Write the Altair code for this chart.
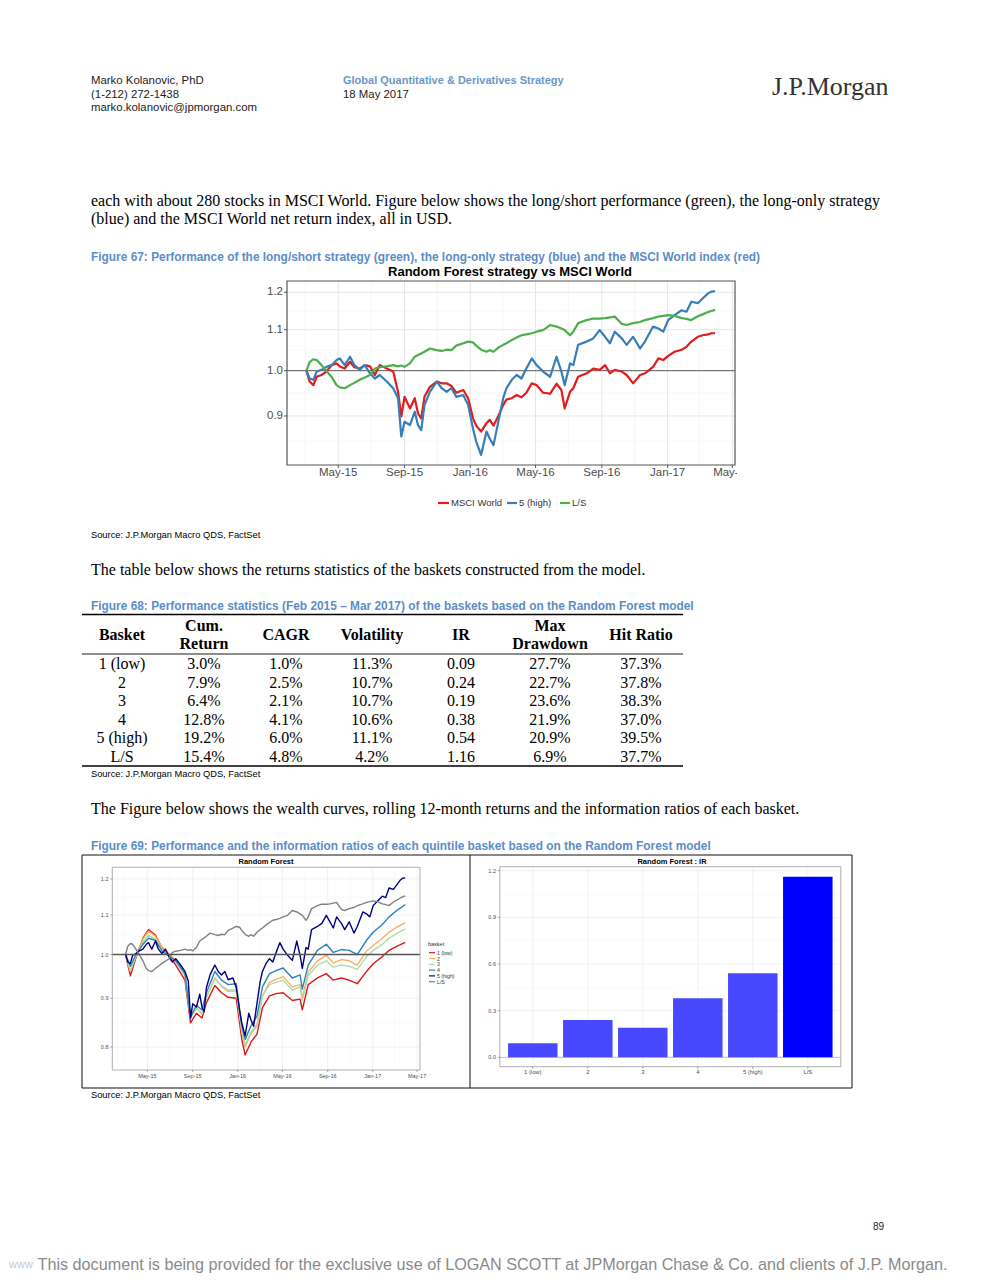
import altair as alt
import pandas as pd

# ------------------------------------------------------------------
# DATA
# ------------------------------------------------------------------
dates67 = [
    "2015-03-03", "2015-03-09", "2015-03-16", "2015-03-22", "2015-03-31", "2015-04-09", "2015-04-19", "2015-04-28",
    "2015-05-04", "2015-05-13", "2015-05-23", "2015-05-31", "2015-06-10", "2015-06-19", "2015-06-29", "2015-07-08",
    "2015-07-17", "2015-07-30", "2015-08-11", "2015-08-20", "2015-08-26", "2015-09-01", "2015-09-11", "2015-09-20",
    "2015-09-26", "2015-10-02", "2015-10-08", "2015-10-18", "2015-10-31", "2015-11-09", "2015-11-18", "2015-11-27",
    "2015-12-06", "2015-12-19", "2015-12-28", "2016-01-06", "2016-01-12", "2016-01-21", "2016-01-31",
    "2016-02-06", "2016-02-13", "2016-02-22", "2016-03-02", "2016-03-08", "2016-03-18", "2016-03-27", "2016-04-05",
    "2016-04-14", "2016-04-24", "2016-05-03", "2016-05-15", "2016-05-28", "2016-06-09", "2016-06-18", "2016-06-24",
    "2016-07-04", "2016-07-10", "2016-07-19", "2016-08-04", "2016-08-16", "2016-08-28", "2016-09-07", "2016-09-16",
    "2016-09-25", "2016-10-08", "2016-10-17", "2016-10-29", "2016-11-11", "2016-11-20", "2016-12-05", "2016-12-15",
    "2016-12-24", "2017-01-02", "2017-01-14", "2017-01-27", "2017-02-05", "2017-02-14", "2017-02-26", "2017-03-07",
    "2017-03-17", "2017-03-23", "2017-03-30"]

msci_world = [
    1.000, 0.975, 0.967, 0.986, 0.990, 0.998, 1.013, 1.017,
    1.010, 1.005, 1.021, 1.008, 1.005, 1.013, 1.010, 0.990,
    1.013, 1.005, 0.998, 0.952, 0.899, 0.941, 0.916, 0.938,
    0.905, 0.895, 0.941, 0.963, 0.975, 0.971, 0.971, 0.965,
    0.950, 0.956, 0.938, 0.895, 0.880, 0.868, 0.885,
    0.892, 0.880, 0.900, 0.923, 0.935, 0.938, 0.945, 0.940,
    0.950, 0.971, 0.967, 0.950, 0.948, 0.970, 0.956, 0.916,
    0.952, 0.960, 0.986, 0.994, 1.005, 1.002, 1.013, 0.994,
    1.002, 0.998, 0.990, 0.971, 0.990, 0.994, 1.009, 1.029,
    1.025, 1.035, 1.045, 1.050, 1.057, 1.070, 1.082, 1.086,
    1.088, 1.091, 1.091]

basket5_high = [
    1.000, 0.982, 0.979, 0.998, 1.002, 1.009, 1.013, 1.025,
    1.029, 1.013, 1.033, 1.013, 1.002, 1.013, 0.994, 0.982,
    0.990, 0.975, 0.960, 0.938, 0.858, 0.888, 0.881, 0.909,
    0.881, 0.871, 0.923, 0.952, 0.975, 0.960, 0.952, 0.960,
    0.941, 0.945, 0.923, 0.874, 0.848, 0.822, 0.868,
    0.854, 0.841, 0.888, 0.938, 0.960, 0.979, 0.990, 0.982,
    1.005, 1.029, 1.013, 0.998, 0.986, 1.033, 0.998, 0.967,
    1.017, 1.013, 1.062, 1.070, 1.078, 1.099, 1.082, 1.066,
    1.095, 1.078, 1.062, 1.082, 1.053, 1.070, 1.108, 1.103,
    1.095, 1.125, 1.138, 1.151, 1.147, 1.174, 1.170, 1.183,
    1.197, 1.202, 1.203]

long_short = [
    1.000, 1.020, 1.027, 1.025, 1.013, 1.000, 0.985, 0.967,
    0.962, 0.960, 0.967, 0.972, 0.979, 0.984, 0.990, 1.005,
    1.008, 1.010, 1.013, 1.010, 1.012, 1.009, 1.017, 1.033,
    1.037, 1.041, 1.045, 1.053, 1.049, 1.047, 1.050, 1.049,
    1.060, 1.066, 1.070, 1.068, 1.060, 1.050, 1.045,
    1.049, 1.045, 1.055, 1.062, 1.066, 1.074, 1.080, 1.086,
    1.088, 1.091, 1.095, 1.099, 1.112, 1.108, 1.103, 1.099,
    1.086, 1.095, 1.117, 1.125, 1.129, 1.129, 1.130, 1.132,
    1.134, 1.115, 1.112, 1.117, 1.120, 1.125, 1.130, 1.134,
    1.136, 1.138, 1.136, 1.130, 1.128, 1.125, 1.135, 1.140,
    1.146, 1.149, 1.152]

dates69 = [
    "2015-03-03", "2015-03-16", "2015-03-31", "2015-04-19", "2015-05-04", "2015-05-23", "2015-06-10",
    "2015-06-29", "2015-07-17", "2015-08-11", "2015-08-26", "2015-09-11", "2015-09-26", "2015-10-08",
    "2015-10-31", "2015-11-18", "2015-12-06", "2015-12-28", "2016-01-12", "2016-01-21", "2016-02-06",
    "2016-02-22", "2016-03-08", "2016-03-27", "2016-04-14", "2016-05-03", "2016-05-28", "2016-06-18",
    "2016-06-24", "2016-07-10", "2016-08-04", "2016-08-28", "2016-09-16", "2016-10-08", "2016-10-29",
    "2016-11-20", "2016-12-15", "2017-01-02", "2017-01-27", "2017-02-14", "2017-03-07", "2017-03-30"]

basket1_low = [1.000, 0.950, 0.992, 1.040, 1.062, 1.048, 1.015, 0.998, 0.975, 0.940, 0.848, 0.868, 0.858, 0.890,
               0.928, 0.912, 0.902, 0.900, 0.815, 0.785, 0.810, 0.825, 0.880, 0.905, 0.910, 0.912, 0.895, 0.898,
               0.875, 0.930, 0.945, 0.955, 0.940, 0.945, 0.940, 0.932, 0.960, 0.978, 0.995, 1.010, 1.020, 1.030]
basket2 = [1.000, 0.960, 0.998, 1.038, 1.058, 1.045, 1.018, 1.002, 0.985, 0.952, 0.860, 0.880, 0.866, 0.902,
           0.945, 0.926, 0.915, 0.916, 0.830, 0.800, 0.826, 0.842, 0.905, 0.935, 0.942, 0.948, 0.925, 0.930,
           0.900, 0.958, 0.985, 0.998, 0.980, 0.988, 0.985, 0.975, 1.008, 1.022, 1.040, 1.055, 1.068, 1.079]
basket3 = [1.000, 0.962, 0.995, 1.030, 1.048, 1.038, 1.012, 0.998, 0.982, 0.950, 0.858, 0.878, 0.868, 0.900,
           0.945, 0.928, 0.918, 0.918, 0.832, 0.805, 0.830, 0.845, 0.905, 0.930, 0.935, 0.940, 0.918, 0.925,
           0.895, 0.950, 0.975, 0.985, 0.970, 0.975, 0.972, 0.965, 0.995, 1.010, 1.025, 1.040, 1.052, 1.064]
basket4 = [1.000, 0.972, 1.000, 1.025, 1.040, 1.035, 1.008, 0.996, 0.985, 0.955, 0.860, 0.885, 0.875, 0.912,
           0.960, 0.940, 0.930, 0.932, 0.842, 0.815, 0.842, 0.862, 0.925, 0.955, 0.962, 0.968, 0.945, 0.952,
           0.920, 0.975, 1.010, 1.025, 1.005, 1.012, 1.010, 1.000, 1.035, 1.055, 1.075, 1.095, 1.112, 1.128]

series67_names = ["MSCI World", "5 (high)", "L/S"]
series67_colors = ["#e41a1c", "#377eb8", "#4daf4a"]

series69_names = ["1 (low)", "2", "3", "4", "5 (high)", "L/S"]
series69_colors = ["#d7191c", "#fdae61", "#abdda4", "#2b83ba", "#00007f", "#808080"]

ir_categories = ["1 (low)", "2", "3", "4", "5 (high)", "L/S"]
ir_values = [0.09, 0.24, 0.19, 0.38, 0.54, 1.16]
ir_colors = ["#4848ff", "#4848ff", "#4848ff", "#4848ff", "#4848ff", "#0000ff"]

table_header = ["Basket", "Cum.\nReturn", "CAGR", "Volatility", "IR", "Max\nDrawdown", "Hit Ratio"]
table_basket = ["1 (low)", "2", "3", "4", "5 (high)", "L/S"]
table_cum = ["3.0%", "7.9%", "6.4%", "12.8%", "19.2%", "15.4%"]
table_cagr = ["1.0%", "2.5%", "2.1%", "4.1%", "6.0%", "4.8%"]
table_vol = ["11.3%", "10.7%", "10.7%", "10.6%", "11.1%", "4.2%"]
table_ir = ["0.09", "0.24", "0.19", "0.38", "0.54", "1.16"]
table_mdd = ["27.7%", "22.7%", "23.6%", "21.9%", "20.9%", "6.9%"]
table_hit = ["37.3%", "37.8%", "38.3%", "37.0%", "39.5%", "37.7%"]

time_major = ["2015-05-01", "2015-09-01", "2016-01-01", "2016-05-01", "2016-09-01", "2017-01-01", "2017-05-01"]
time_labels = ["May-15", "Sep-15", "Jan-16", "May-16", "Sep-16", "Jan-17", "May-17"]
time_minor = ["2015-03-01", "2015-07-01", "2015-11-01", "2016-03-01", "2016-07-01", "2016-11-01", "2017-03-01"]
y67_major = [0.9, 1.0, 1.1, 1.2]
y67_labels = ["0.9", "1.0", "1.1", "1.2"]
y67_minor = [0.8485, 0.9487, 1.0488, 1.1489]
y69_major = [0.8, 0.9, 1.0, 1.1, 1.2]
y69_labels = ["0.8", "0.9", "1.0", "1.1", "1.2"]
y69_minor = [0.8485, 0.9487, 1.0488, 1.1489]
ir_major = [0.0, 0.3, 0.6, 0.9, 1.2]
ir_labels = ["0.0", "0.3", "0.6", "0.9", "1.2"]
ir_minor = [0.15, 0.45, 0.75, 1.05]

# ------------------------------------------------------------------
# LAYOUT HELPERS
# ------------------------------------------------------------------
M = 8  # page margin


def px(x):
    return x - M


def py(y):
    return y - M


SANS = "Liberation Sans, Arial, Helvetica, sans-serif"
NARROW = "Liberation Sans Narrow, Arial Narrow, Liberation Sans, sans-serif"
SERIF = "Liberation Serif, Times New Roman, serif"
TITLE_BLUE = "#5b8dc6"
AXIS_GREY = "#4d4d4d"
BODY = 16
FIGT = 11.9
SRC = 9.3

one = pd.DataFrame({"k": [0]})


def text(s, x, y, size, font=SANS, weight="normal", color="#000000", align="left"):
    return alt.Chart(one).mark_text(
        align=align, baseline="middle", font=font, fontSize=size, fontWeight=weight, color=color
    ).encode(x=alt.value(px(x)), y=alt.value(py(y)), text=alt.value(s))


def hrule(x0, x1, y, color="#000000", width=1.0):
    return alt.Chart(one).mark_rule(color=color, strokeWidth=width).encode(
        x=alt.value(px(x0)), x2=alt.value(px(x1)), y=alt.value(py(y)))


def vrule(x, y0, y1, color="#000000", width=1.0):
    return alt.Chart(one).mark_rule(color=color, strokeWidth=width).encode(
        x=alt.value(px(x)), y=alt.value(py(y0)), y2=alt.value(py(y1)))


def box(x0, x1, y0, y1, color, width):
    return alt.Chart(one).mark_rect(fillOpacity=0, stroke=color, strokeWidth=width).encode(
        x=alt.value(px(x0)), x2=alt.value(px(x1)), y=alt.value(py(y0)), y2=alt.value(py(y1)))


def fillbox(x0, x1, y0, y1, color):
    return alt.Chart(one).mark_rect(color=color).encode(
        x=alt.value(px(x0)), x2=alt.value(px(x1)), y=alt.value(py(y0)), y2=alt.value(py(y1)))


def dt(y, m, d):
    return alt.DateTime(year=y, month=m, date=d, utc=True)


def xtime(x0, x1, d0, d1):
    return alt.X("date:T", scale=alt.Scale(type="utc", domain=[d0, d1], range=[px(x0), px(x1)]), axis=None)


def ylog(yb, yt, v0, v1):
    return alt.Y("value:Q", scale=alt.Scale(type="log", domain=[v0, v1], range=[py(yb), py(yt)], nice=False),
                 axis=None)


layers = []

# ------------------------------------------------------------------
# PAGE HEADER + TEXT
# ------------------------------------------------------------------
layers += [
    text("Marko Kolanovic, PhD", 91, 81, 11.4, color="#222222"),
    text("(1-212) 272-1438", 91, 95, 11.4, color="#222222"),
    text("marko.kolanovic@jpmorgan.com", 91, 108, 11.4, color="#222222"),
    text("Global Quantitative & Derivatives Strategy", 343, 81, 11, weight="bold", color="#6b97c7"),
    text("18 May 2017", 343, 95, 11.4, color="#222222"),
    text("J.P.Morgan", 772, 87, 26, font=SERIF, color="#333333"),
    text("each with about 280 stocks in MSCI World. Figure below shows the long/short performance (green), "
         "the long-only strategy", 91, 201, BODY, font=SERIF),
    text("(blue) and the MSCI World net return index, all in USD.", 91, 219, BODY, font=SERIF),
    text("Figure 67: Performance of the long/short strategy (green), the long-only strategy (blue) and the MSCI "
         "World index (red)", 91, 257, FIGT, font=NARROW, weight="bold", color=TITLE_BLUE),
    text("Source: J.P.Morgan Macro QDS, FactSet", 91, 535, SRC, font=NARROW),
    text("The table below shows the returns statistics of the baskets constructed from the model.",
         91, 570, BODY, font=SERIF),
    text("Figure 68: Performance statistics (Feb 2015 \u2013 Mar 2017) of the baskets based on the Random Forest "
         "model", 91, 606, FIGT, font=NARROW, weight="bold", color=TITLE_BLUE),
    text("Source: J.P.Morgan Macro QDS, FactSet", 91, 774, SRC, font=NARROW),
    text("The Figure below shows the wealth curves, rolling 12-month returns and the information ratios of each "
         "basket.", 91, 809, BODY, font=SERIF),
    text("Figure 69: Performance and the information ratios of each quintile basket based on the Random Forest "
         "model", 91, 846, FIGT, font=NARROW, weight="bold", color=TITLE_BLUE),
    text("Source: J.P.Morgan Macro QDS, FactSet", 91, 1095, SRC, font=NARROW),
    text("89", 884, 1227, 10, color="#222222", align="right"),
    text("www", 9, 1265, 11, color="#c8c8c8"),
    text("This document is being provided for the exclusive use of LOGAN SCOTT at JPMorgan Chase & Co. and "
         "clients of J.P. Morgan.", 492.5, 1265, 16.2, color="#8a8a8a", align="center"),
]

# ------------------------------------------------------------------
# FIGURE 67
# ------------------------------------------------------------------
L67, R67, T67, B67 = 287, 735, 281, 465
X67 = xtime(L67, R67, dt(2015, 1, 26), dt(2017, 5, 6))
Y67 = ylog(B67, T67, 0.803, 1.232)

layers += [
    alt.Chart(pd.DataFrame({"value": y67_minor})).mark_rule(color="#f3f3f3", strokeWidth=0.7).encode(
        y=Y67, x=alt.value(px(L67)), x2=alt.value(px(R67))),
    alt.Chart(pd.DataFrame({"date": time_minor})).mark_rule(color="#f3f3f3", strokeWidth=0.7).encode(
        x=X67, y=alt.value(py(T67)), y2=alt.value(py(B67))),
    alt.Chart(pd.DataFrame({"value": y67_major})).mark_rule(color="#e3e3e3", strokeWidth=0.9).encode(
        y=Y67, x=alt.value(px(L67)), x2=alt.value(px(R67))),
    alt.Chart(pd.DataFrame({"date": time_major})).mark_rule(color="#e3e3e3", strokeWidth=0.9).encode(
        x=X67, y=alt.value(py(T67)), y2=alt.value(py(B67))),
    alt.Chart(pd.DataFrame({"value": [1.0]})).mark_rule(color="#3a3a3a", strokeWidth=0.8).encode(
        y=Y67, x=alt.value(px(L67)), x2=alt.value(px(R67))),
]
for vals, col in zip([msci_world, basket5_high, long_short], series67_colors):
    layers.append(
        alt.Chart(pd.DataFrame({"date": dates67, "value": vals})).mark_line(
            color=col, strokeWidth=2.2, strokeJoin="round").encode(x=X67, y=Y67))

layers += [
    box(L67, R67, T67, B67, "#555555", 1.2),
    alt.Chart(pd.DataFrame({"date": time_major})).mark_rule(color="#333333", strokeWidth=0.8).encode(
        x=X67, y=alt.value(py(B67)), y2=alt.value(py(B67 + 3))),
    alt.Chart(pd.DataFrame({"value": y67_major})).mark_rule(color="#333333", strokeWidth=0.8).encode(
        y=Y67, x=alt.value(px(L67 - 3)), x2=alt.value(px(L67))),
    alt.Chart(pd.DataFrame({"date": time_major, "label": time_labels})).mark_text(
        align="center", baseline="middle", font=SANS, fontSize=11.5, color=AXIS_GREY).encode(
        x=X67, y=alt.value(py(473)), text="label:N"),
    alt.Chart(pd.DataFrame({"value": y67_major, "label": y67_labels})).mark_text(
        align="right", baseline="middle", font=SANS, fontSize=11.5, color=AXIS_GREY).encode(
        y=Y67, x=alt.value(px(283)), text="label:N"),
    fillbox(737, 775, 466, 482, "#ffffff"),
    text("Random Forest strategy vs MSCI World", 510, 272, 13, weight="bold", align="center"),
]
# legend of figure 67
leg67_swatch = [(438, 449), (507, 517), (560, 570)]
leg67_text = [451, 519, 572]
for (a, b), tx, name, col in zip(leg67_swatch, leg67_text, series67_names, series67_colors):
    layers.append(hrule(a, b, 503, col, 2.2))
    layers.append(text(name, tx, 503, 9.5, color="#333333"))

# ------------------------------------------------------------------
# TABLE (FIGURE 68)
# ------------------------------------------------------------------
col_centers = [122, 204, 286, 372, 461, 550, 641]
table_cols = [table_basket, table_cum, table_cagr, table_vol, table_ir, table_mdd, table_hit]
cells = []
for c, colvals in enumerate(table_cols):
    for r, t in enumerate(colvals):
        cells.append({"c": c, "r": r, "t": t})
head = []
for c, h in enumerate(table_header):
    parts = h.split("\n")
    if len(parts) == 1:
        head.append({"c": c, "h": 0.5, "t": parts[0]})
    else:
        head.append({"c": c, "h": 0.0, "t": parts[0]})
        head.append({"c": c, "h": 1.0, "t": parts[1]})

XT = alt.X("c:Q", scale=alt.Scale(domain=list(range(7)), range=[px(v) for v in col_centers], nice=False,
                                  zero=False), axis=None)
layers += [
    hrule(82, 683, 614.5, "#000000", 1.6),
    hrule(82, 683, 654, "#000000", 0.9),
    hrule(82, 683, 766, "#000000", 1.5),
    alt.Chart(pd.DataFrame(head)).mark_text(
        align="center", baseline="middle", font=SERIF, fontSize=BODY, fontWeight="bold").encode(
        x=XT,
        y=alt.Y("h:Q", scale=alt.Scale(domain=[0, 1], range=[py(626), py(644)], nice=False, zero=False),
                axis=None),
        text="t:N"),
    alt.Chart(pd.DataFrame(cells)).mark_text(
        align="center", baseline="middle", font=SERIF, fontSize=BODY).encode(
        x=XT,
        y=alt.Y("r:Q", scale=alt.Scale(domain=[0, 5], range=[py(664), py(757)], nice=False, zero=False),
                axis=None),
        text="t:N"),
]

# ------------------------------------------------------------------
# FIGURE 69 frame
# ------------------------------------------------------------------
layers += [
    box(82, 852, 855, 1088, "#111111", 1.0),
    vrule(470, 855, 1088, "#111111", 1.0),
]

# ------------------------------------------------------------------
# FIGURE 69 left: wealth curves
# ------------------------------------------------------------------
L69, R69, T69, B69 = 112.3, 420, 867.3, 1070
X69 = xtime(L69, R69, dt(2015, 1, 26), dt(2017, 5, 9))
Y69 = ylog(B69, T69, 0.757, 1.234)

layers += [
    alt.Chart(pd.DataFrame({"value": y69_minor})).mark_rule(color="#f4f4f4", strokeWidth=0.5).encode(
        y=Y69, x=alt.value(px(L69)), x2=alt.value(px(R69))),
    alt.Chart(pd.DataFrame({"date": time_minor})).mark_rule(color="#f4f4f4", strokeWidth=0.5).encode(
        x=X69, y=alt.value(py(T69)), y2=alt.value(py(B69))),
    alt.Chart(pd.DataFrame({"value": y69_major})).mark_rule(color="#e8e8e8", strokeWidth=0.6).encode(
        y=Y69, x=alt.value(px(L69)), x2=alt.value(px(R69))),
    alt.Chart(pd.DataFrame({"date": time_major})).mark_rule(color="#e8e8e8", strokeWidth=0.6).encode(
        x=X69, y=alt.value(py(T69)), y2=alt.value(py(B69))),
]
series69 = [(dates69, basket1_low), (dates69, basket2), (dates69, basket3), (dates69, basket4),
            (dates67, basket5_high), (dates67, long_short)]
for (dts, vals), col in zip(series69, series69_colors):
    layers.append(
        alt.Chart(pd.DataFrame({"date": dts, "value": vals})).mark_line(
            color=col, strokeWidth=1.4, strokeJoin="round").encode(x=X69, y=Y69))
layers += [
    alt.Chart(pd.DataFrame({"value": [1.0]})).mark_rule(color="#555555", strokeWidth=1.3).encode(
        y=Y69, x=alt.value(px(L69)), x2=alt.value(px(R69))),
    box(L69, R69, T69, B69, "#9a9a9a", 0.8),
    alt.Chart(pd.DataFrame({"date": time_major})).mark_rule(color="#555555", strokeWidth=0.5).encode(
        x=X69, y=alt.value(py(B69)), y2=alt.value(py(B69 + 2))),
    alt.Chart(pd.DataFrame({"value": y69_major})).mark_rule(color="#555555", strokeWidth=0.5).encode(
        y=Y69, x=alt.value(px(L69 - 2)), x2=alt.value(px(L69))),
    alt.Chart(pd.DataFrame({"date": time_major, "label": time_labels})).mark_text(
        align="center", baseline="middle", font=SANS, fontSize=5.5, color=AXIS_GREY).encode(
        x=X69, y=alt.value(py(1076)), text="label:N"),
    alt.Chart(pd.DataFrame({"value": y69_major, "label": y69_labels})).mark_text(
        align="right", baseline="middle", font=SANS, fontSize=5.5, color=AXIS_GREY).encode(
        y=Y69, x=alt.value(px(108.5)), text="label:N"),
    text("Random Forest", 266, 862, 7.5, weight="bold", align="center"),
    text("basket", 428, 944, 5.5, color="#333333"),
]
YLEG = alt.Y("i:Q", scale=alt.Scale(domain=[0, 5], range=[py(952.7), py(981.7)], nice=False, zero=False),
             axis=None)
leg69 = pd.DataFrame({"i": list(range(6)), "name": series69_names})
layers += [
    alt.Chart(leg69).mark_rule(strokeWidth=1.2).encode(
        y=YLEG, x=alt.value(px(429)), x2=alt.value(px(435)),
        color=alt.Color("name:N", scale=alt.Scale(domain=series69_names, range=series69_colors), legend=None)),
    alt.Chart(leg69).mark_text(align="left", baseline="middle", font=SANS, fontSize=5.2,
                               color="#333333").encode(y=YLEG, x=alt.value(px(437)), text="name:N"),
]

# ------------------------------------------------------------------
# FIGURE 69 right: information ratios
# ------------------------------------------------------------------
LB, RB, TB, BB = 499.8, 840.8, 866.7, 1066.7
XB = alt.X("basket:N", scale=alt.Scale(type="band", domain=ir_categories, range=[px(LB), px(RB)],
                                       paddingInner=0.1, paddingOuter=0.15), axis=None)
YB = alt.Y("value:Q", scale=alt.Scale(domain=[-0.06, 1.225], range=[py(BB), py(TB)], nice=False, zero=False),
           axis=None)
df_ir = pd.DataFrame({"basket": ir_categories, "value": ir_values})
layers += [
    alt.Chart(pd.DataFrame({"value": ir_minor})).mark_rule(color="#f4f4f4", strokeWidth=0.5).encode(
        y=YB, x=alt.value(px(LB)), x2=alt.value(px(RB))),
    alt.Chart(pd.DataFrame({"value": ir_major[1:]})).mark_rule(color="#e8e8e8", strokeWidth=0.6).encode(
        y=YB, x=alt.value(px(LB)), x2=alt.value(px(RB))),
    alt.Chart(pd.DataFrame({"basket": ir_categories})).mark_rule(color="#e8e8e8", strokeWidth=0.6).encode(
        x=XB, y=alt.value(py(TB)), y2=alt.value(py(BB))),
    alt.Chart(pd.DataFrame({"value": [0.0]})).mark_rule(color="#b0b0b0", strokeWidth=0.8).encode(
        y=YB, x=alt.value(px(LB)), x2=alt.value(px(RB))),
    alt.Chart(df_ir).mark_bar().encode(
        x=XB, y=YB, y2=alt.datum(0),
        color=alt.Color("basket:N", scale=alt.Scale(domain=ir_categories, range=ir_colors), legend=None)),
    box(LB, RB, TB, BB, "#9a9a9a", 0.8),
    alt.Chart(pd.DataFrame({"basket": ir_categories})).mark_rule(color="#555555", strokeWidth=0.5).encode(
        x=XB, y=alt.value(py(BB)), y2=alt.value(py(BB + 2))),
    alt.Chart(pd.DataFrame({"value": ir_major})).mark_rule(color="#555555", strokeWidth=0.5).encode(
        y=YB, x=alt.value(px(LB - 2)), x2=alt.value(px(LB))),
    alt.Chart(pd.DataFrame({"basket": ir_categories})).mark_text(
        align="center", baseline="middle", font=SANS, fontSize=5.8, color=AXIS_GREY).encode(
        x=XB, y=alt.value(py(1072)), text="basket:N"),
    alt.Chart(pd.DataFrame({"value": ir_major, "label": ir_labels})).mark_text(
        align="right", baseline="middle", font=SANS, fontSize=5.5, color=AXIS_GREY).encode(
        y=YB, x=alt.value(px(496)), text="label:N"),
    text("Random Forest : IR", 672, 861.5, 7.5, weight="bold", align="center"),
]

chart = alt.layer(*layers).resolve_scale(
    x="independent", y="independent", color="independent"
).properties(
    width=973, height=1272, padding=0, autosize=alt.AutoSizeParams(type="none"), background="#ffffff"
).configure_view(strokeWidth=0)

chart.save("out.html", embed_options={"renderer": "svg", "actions": False})
